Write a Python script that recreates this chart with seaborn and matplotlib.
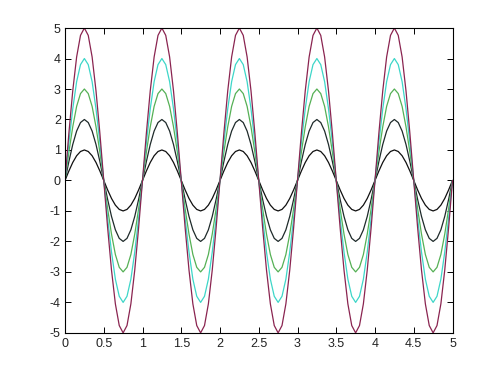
import matplotlib
matplotlib.use("Agg")
import matplotlib.pyplot as plt
import seaborn as sns
import pandas as pd

sns.set_theme(style="white")
plt.rcParams['font.family'] = ['Liberation Sans', 'DejaVu Sans']
plt.rcParams['axes.unicode_minus'] = False

x = [0.00, 0.05, 0.10, 0.15, 0.20, 0.25, 0.30, 0.35, 0.40, 0.45,
     0.50, 0.55, 0.60, 0.65, 0.70, 0.75, 0.80, 0.85, 0.90, 0.95,
     1.00, 1.05, 1.10, 1.15, 1.20, 1.25, 1.30, 1.35, 1.40, 1.45,
     1.50, 1.55, 1.60, 1.65, 1.70, 1.75, 1.80, 1.85, 1.90, 1.95,
     2.00, 2.05, 2.10, 2.15, 2.20, 2.25, 2.30, 2.35, 2.40, 2.45,
     2.50, 2.55, 2.60, 2.65, 2.70, 2.75, 2.80, 2.85, 2.90, 2.95,
     3.00, 3.05, 3.10, 3.15, 3.20, 3.25, 3.30, 3.35, 3.40, 3.45,
     3.50, 3.55, 3.60, 3.65, 3.70, 3.75, 3.80, 3.85, 3.90, 3.95,
     4.00, 4.05, 4.10, 4.15, 4.20, 4.25, 4.30, 4.35, 4.40, 4.45,
     4.50, 4.55, 4.60, 4.65, 4.70, 4.75, 4.80, 4.85, 4.90, 4.95,
     5.00]

y1 = [0, .31, .59, .81, .95, 1, .95, .81, .59, .31, 0, -.31, -.59, -.81, -.95, -1, -.95, -.81, -.59, -.31,
      0, .31, .59, .81, .95, 1, .95, .81, .59, .31, 0, -.31, -.59, -.81, -.95, -1, -.95, -.81, -.59, -.31,
      0, .31, .59, .81, .95, 1, .95, .81, .59, .31, 0, -.31, -.59, -.81, -.95, -1, -.95, -.81, -.59, -.31,
      0, .31, .59, .81, .95, 1, .95, .81, .59, .31, 0, -.31, -.59, -.81, -.95, -1, -.95, -.81, -.59, -.31,
      0, .31, .59, .81, .95, 1, .95, .81, .59, .31, 0, -.31, -.59, -.81, -.95, -1, -.95, -.81, -.59, -.31,
      0]

y2 = [0, .62, 1.18, 1.62, 1.90, 2, 1.90, 1.62, 1.18, .62, 0, -.62, -1.18, -1.62, -1.90, -2, -1.90, -1.62, -1.18, -.62,
      0, .62, 1.18, 1.62, 1.90, 2, 1.90, 1.62, 1.18, .62, 0, -.62, -1.18, -1.62, -1.90, -2, -1.90, -1.62, -1.18, -.62,
      0, .62, 1.18, 1.62, 1.90, 2, 1.90, 1.62, 1.18, .62, 0, -.62, -1.18, -1.62, -1.90, -2, -1.90, -1.62, -1.18, -.62,
      0, .62, 1.18, 1.62, 1.90, 2, 1.90, 1.62, 1.18, .62, 0, -.62, -1.18, -1.62, -1.90, -2, -1.90, -1.62, -1.18, -.62,
      0, .62, 1.18, 1.62, 1.90, 2, 1.90, 1.62, 1.18, .62, 0, -.62, -1.18, -1.62, -1.90, -2, -1.90, -1.62, -1.18, -.62,
      0]

y3 = [0, .93, 1.76, 2.43, 2.85, 3, 2.85, 2.43, 1.76, .93, 0, -.93, -1.76, -2.43, -2.85, -3, -2.85, -2.43, -1.76, -.93,
      0, .93, 1.76, 2.43, 2.85, 3, 2.85, 2.43, 1.76, .93, 0, -.93, -1.76, -2.43, -2.85, -3, -2.85, -2.43, -1.76, -.93,
      0, .93, 1.76, 2.43, 2.85, 3, 2.85, 2.43, 1.76, .93, 0, -.93, -1.76, -2.43, -2.85, -3, -2.85, -2.43, -1.76, -.93,
      0, .93, 1.76, 2.43, 2.85, 3, 2.85, 2.43, 1.76, .93, 0, -.93, -1.76, -2.43, -2.85, -3, -2.85, -2.43, -1.76, -.93,
      0, .93, 1.76, 2.43, 2.85, 3, 2.85, 2.43, 1.76, .93, 0, -.93, -1.76, -2.43, -2.85, -3, -2.85, -2.43, -1.76, -.93,
      0]

y4 = [0, 1.24, 2.35, 3.24, 3.80, 4, 3.80, 3.24, 2.35, 1.24, 0, -1.24, -2.35, -3.24, -3.80, -4, -3.80, -3.24, -2.35, -1.24,
      0, 1.24, 2.35, 3.24, 3.80, 4, 3.80, 3.24, 2.35, 1.24, 0, -1.24, -2.35, -3.24, -3.80, -4, -3.80, -3.24, -2.35, -1.24,
      0, 1.24, 2.35, 3.24, 3.80, 4, 3.80, 3.24, 2.35, 1.24, 0, -1.24, -2.35, -3.24, -3.80, -4, -3.80, -3.24, -2.35, -1.24,
      0, 1.24, 2.35, 3.24, 3.80, 4, 3.80, 3.24, 2.35, 1.24, 0, -1.24, -2.35, -3.24, -3.80, -4, -3.80, -3.24, -2.35, -1.24,
      0, 1.24, 2.35, 3.24, 3.80, 4, 3.80, 3.24, 2.35, 1.24, 0, -1.24, -2.35, -3.24, -3.80, -4, -3.80, -3.24, -2.35, -1.24,
      0]

y5 = [0, 1.55, 2.94, 4.05, 4.76, 5, 4.76, 4.05, 2.94, 1.55, 0, -1.55, -2.94, -4.05, -4.76, -5, -4.76, -4.05, -2.94, -1.55,
      0, 1.55, 2.94, 4.05, 4.76, 5, 4.76, 4.05, 2.94, 1.55, 0, -1.55, -2.94, -4.05, -4.76, -5, -4.76, -4.05, -2.94, -1.55,
      0, 1.55, 2.94, 4.05, 4.76, 5, 4.76, 4.05, 2.94, 1.55, 0, -1.55, -2.94, -4.05, -4.76, -5, -4.76, -4.05, -2.94, -1.55,
      0, 1.55, 2.94, 4.05, 4.76, 5, 4.76, 4.05, 2.94, 1.55, 0, -1.55, -2.94, -4.05, -4.76, -5, -4.76, -4.05, -2.94, -1.55,
      0, 1.55, 2.94, 4.05, 4.76, 5, 4.76, 4.05, 2.94, 1.55, 0, -1.55, -2.94, -4.05, -4.76, -5, -4.76, -4.05, -2.94, -1.55,
      0]

series = [y1, y2, y3, y4, y5]
colors = ['#101010', '#1e2a2a', '#55b055', '#3dd6c8', '#8a2450']
xticks = [0, 0.5, 1, 1.5, 2, 2.5, 3, 3.5, 4, 4.5, 5]
xticklabels = ['0', '0.5', '1', '1.5', '2', '2.5', '3', '3.5', '4', '4.5', '5']
yticks = [-5, -4, -3, -2, -1, 0, 1, 2, 3, 4, 5]

fig = plt.figure(figsize=(5.0, 3.74), dpi=100)
ax = fig.add_axes([0.13, 0.11, 0.775, 0.815])

for ys, c in zip(series, colors):
    df = pd.DataFrame({'x': x, 'y': ys})
    sns.lineplot(data=df, x='x', y='y', ax=ax, color=c, linewidth=0.9, sort=False, estimator=None)

ax.set_xlim(0, 5)
ax.set_ylim(-5, 5)
ax.set_xticks(xticks)
ax.set_xticklabels(xticklabels)
ax.set_yticks(yticks)
ax.set_xlabel('')
ax.set_ylabel('')
for s in ax.spines.values():
    s.set_visible(True)
    s.set_color('black')
    s.set_linewidth(0.8)
ax.tick_params(direction='in', length=4, width=0.7, colors='black', labelsize=9,
               top=True, right=True, bottom=True, left=True, pad=3)
ax.tick_params(axis='x', pad=4)
ax.tick_params(labelcolor='#222222')

fig.savefig('out.png', dpi=100, facecolor='white')
